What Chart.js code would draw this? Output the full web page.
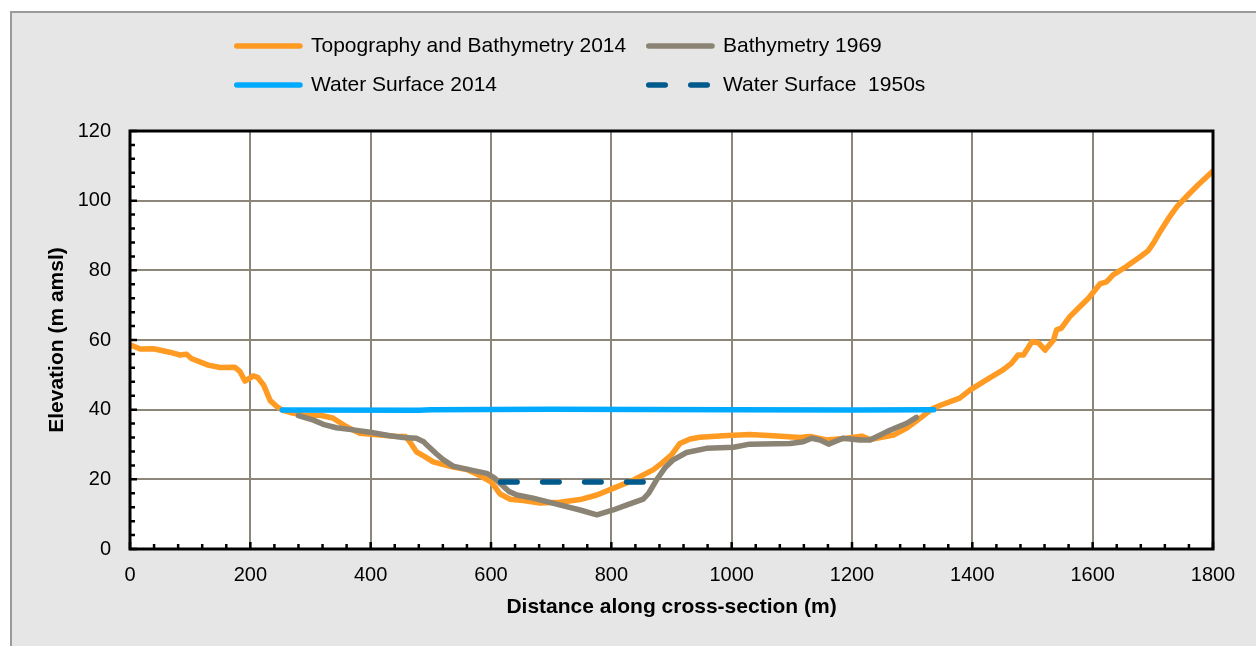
<!DOCTYPE html>
<html><head><meta charset="utf-8">
<script src="https://cdn.jsdelivr.net/npm/chart.js@4.4.1/dist/chart.umd.min.js"></script>
<style>html,body{margin:0;padding:0;background:#fff;} #wrap{width:1256px;height:646px;position:relative;}</style>
</head><body><div id="wrap"><canvas id="c" width="1256" height="646"></canvas></div>
<script>
// ---- Data ----
const seriesLabels = ["Topography and Bathymetry 2014", "Bathymetry 1969", "Water Surface 2014", "Water Surface  1950s"];

const topoX = [0,17,39,66,83,94,102,130,150,174,183,191,205,212,222,233,244,253,270,290,316,337,360,382,410,440,458,465,476,490,504,537,560,582,600,608,615,632,654,681,715,748,776,803,837,850,870,885,900,914,931,947,986,1030,1069,1113,1130,1158,1191,1216,1230,1269,1291,1313,1332,1346,1379,1396,1418,1451,1465,1476,1485,1499,1510,1521,1535,1540,1548,1562,1579,1593,1612,1623,1634,1656,1679,1692,1701,1712,1726,1740,1756,1775,1800];
const topoY = [58.6,57.4,57.5,56.5,55.7,55.9,54.7,52.8,52.1,52.2,50.9,48.2,49.7,49.3,47.1,42.6,40.9,39.9,39.0,38.4,38.4,37.6,35.1,33.2,32.8,32.4,32.3,30.8,27.9,26.5,25.0,23.5,22.8,21.0,19.3,17.5,15.8,14.3,13.9,13.2,13.4,14.2,15.5,17.4,19.8,21.0,22.8,24.8,27.0,30.3,31.6,32.1,32.5,32.9,32.5,32.0,32.3,31.3,31.8,32.4,31.4,32.7,34.7,37.5,40.1,41.2,43.3,45.6,48.0,51.4,53.3,55.7,55.7,59.5,59.2,57.1,60.0,62.9,63.4,66.7,69.6,72.0,76.1,76.7,78.7,81.1,83.9,85.6,87.8,91.1,94.9,98.3,101.2,104.5,108.5];

const bathX = [280,305,321,343,371,399,432,454,476,488,493,510,521,537,571,593,605,615,630,643,670,709,748,776,803,825,853,862,875,890,903,925,958,1003,1030,1097,1119,1133,1147,1161,1185,1213,1230,1258,1274,1291,1307];
const bathY = [38.3,37.0,35.8,34.8,34.2,33.5,32.5,32.0,31.8,30.8,29.9,27.2,25.6,23.8,22.5,21.7,20.5,18.9,16.5,15.5,14.6,12.9,11.2,9.8,11.2,12.6,14.3,16.0,19.8,23.5,25.6,27.7,28.9,29.2,30.1,30.3,30.8,31.8,31.3,30.1,31.8,31.3,31.3,33.7,34.9,36.1,37.8];

const ws2014X = [253,480,500,700,1000,1200,1336];
const ws2014Y = [39.9,39.8,40.0,40.1,40.0,39.9,40.0];

const ws1950X = [616,853];
const ws1950Y = [19.2,19.2];

const xTickValues = [0,200,400,600,800,1000,1200,1400,1600,1800];
const yTickValues = [0,20,40,60,80,100,120];

// ---- Styles ----
const colors = ["#FF9A22", "#8B8374", "#00AAFF", "#005A8C"];
const gridColor = "#8C8579";
const FONT = "'Liberation Sans', Arial, sans-serif";

function pts(xs, ys){ return xs.map((x,i)=>({x:x, y:ys[i]})); }

const dashPattern = [16.5, 25.5];

const datasets = [
  {label: seriesLabels[0], data: pts(topoX, topoY), borderColor: colors[0], order: 4},
  {label: seriesLabels[1], data: pts(bathX, bathY), borderColor: colors[1], order: 3},
  {label: seriesLabels[2], data: pts(ws2014X, ws2014Y), borderColor: colors[2], order: 2},
  {label: seriesLabels[3], data: pts(ws1950X, ws1950Y), borderColor: colors[3], order: 1, borderDash: dashPattern}
].map(d => Object.assign({borderWidth: 5.5, pointRadius: 0, pointHoverRadius: 0, tension: 0, fill: false,
  borderCapStyle: 'round', borderJoinStyle: 'round', backgroundColor: d.borderColor}, d));

const bgPlugin = {
  id: 'bg',
  beforeDraw(chart){
    const ctx = chart.ctx, a = chart.chartArea;
    ctx.save();
    ctx.fillStyle = '#ffffff';
    ctx.fillRect(0,0,chart.width,chart.height);
    ctx.fillStyle = '#E6E6E6';
    ctx.fillRect(10,11,chart.width,chart.height);
    ctx.strokeStyle = '#9A9A9A';
    ctx.lineWidth = 2;
    ctx.beginPath();
    ctx.moveTo(11, chart.height+2); ctx.lineTo(11,12); ctx.lineTo(chart.width+2,12);
    ctx.stroke();
    ctx.fillStyle = '#ffffff';
    ctx.fillRect(a.left, a.top, a.right-a.left, a.bottom-a.top);
    ctx.restore();
  }
};

const framePlugin = {
  id: 'frame',
  afterDatasetsDraw(chart){
    const ctx = chart.ctx, a = chart.chartArea;
    const xs = chart.scales.x, ys = chart.scales.y;
    ctx.save();
    ctx.strokeStyle = '#000';
    ctx.lineWidth = 2.5;
    ctx.beginPath();
    for (let v = 0; v <= 1800; v += 40){
      const px = xs.getPixelForValue(v);
      const len = (v % 200 === 0) ? 7 : 5;
      ctx.moveTo(px, a.bottom); ctx.lineTo(px, a.bottom - len);
    }
    for (let v = 0; v <= 120; v += 4){
      const py = ys.getPixelForValue(v);
      const len = (v % 20 === 0) ? 7 : 5;
      ctx.moveTo(a.left, py); ctx.lineTo(a.left + len, py);
    }
    ctx.stroke();
    ctx.lineWidth = 3;
    ctx.strokeRect(a.left, a.top, a.right - a.left, a.bottom - a.top);
    ctx.restore();
  }
};

const legendPlugin = {
  id: 'customLegend',
  afterDraw(chart){
    const ctx = chart.ctx;
    const items = [
      {i:0, x:234, y:46}, {i:1, x:646, y:46},
      {i:2, x:234, y:85}, {i:3, x:646, y:85}
    ];
    ctx.save();
    ctx.font = "21px " + FONT;
    ctx.textBaseline = 'middle';
    ctx.textAlign = 'left';
    items.forEach(it => {
      const ds = chart.data.datasets[it.i];
      ctx.strokeStyle = ds.borderColor;
      ctx.lineWidth = 5.5;
      ctx.lineCap = 'round';
      ctx.setLineDash(ds.borderDash || []);
      ctx.beginPath();
      ctx.moveTo(it.x+2.75, it.y); ctx.lineTo(it.x+66, it.y);
      ctx.stroke();
      ctx.setLineDash([]);
      ctx.fillStyle = '#000';
      ctx.fillText(ds.label, it.x + 77, it.y);
    });
    ctx.restore();
  }
};

new Chart(document.getElementById('c'), {
  type: 'line',
  data: { datasets: datasets },
  options: {
    responsive: false,
    animation: false,
    devicePixelRatio: 1,
    layout: { padding: { top: 131, right: 43, left: 0, bottom: 0 } },
    plugins: { legend: { display: false }, tooltip: { enabled: false } },
    scales: {
      x: {
        type: 'linear', min: 0, max: 1800,
        afterBuildTicks: s => { s.ticks = xTickValues.map(v => ({value: v})); },
        afterFit: s => { s.height = 97; },
        ticks: { color: '#000', font: { family: FONT, size: 20 }, padding: 14, maxRotation: 0,
                 callback: v => String(v) },
        grid: { color: gridColor, lineWidth: 2, drawTicks: false },
        border: { display: false },
        title: { display: true, text: 'Distance along cross-section (m)', color: '#000',
                 font: { family: FONT, size: 21, weight: 'bold' }, padding: { top: 0, bottom: 26 } }
      },
      y: {
        type: 'linear', min: 0, max: 120,
        afterBuildTicks: s => { s.ticks = yTickValues.map(v => ({value: v})); },
        afterFit: s => { s.width = 130; },
        ticks: { color: '#000', font: { family: FONT, size: 20 }, padding: 19, callback: v => String(v) },
        grid: { color: gridColor, lineWidth: 2, drawTicks: false },
        border: { display: false },
        title: { display: true, text: 'Elevation (m amsl)', color: '#000',
                 font: { family: FONT, size: 21, weight: 'bold' }, padding: { top: 45, bottom: 0 } }
      }
    }
  },
  plugins: [bgPlugin, framePlugin, legendPlugin]
});
</script>
</body></html>
